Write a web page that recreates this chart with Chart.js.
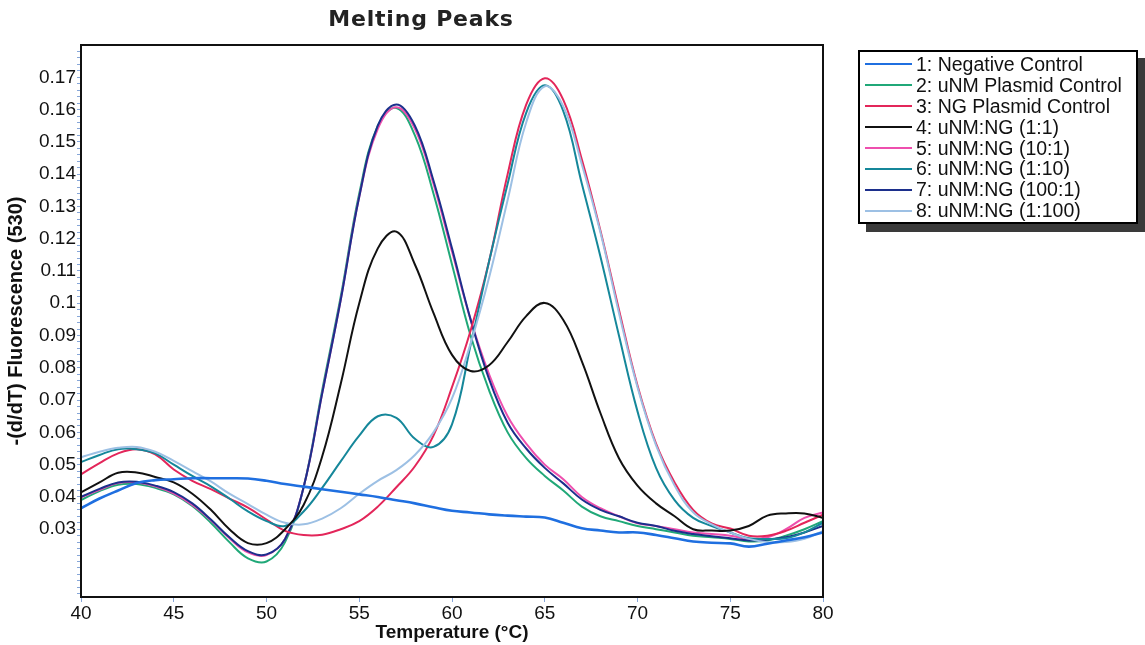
<!DOCTYPE html>
<html>
<head>
<meta charset="utf-8">
<script src="https://cdn.jsdelivr.net/npm/chart.js@4"></script>
<style>
  html, body { margin: 0; padding: 0; background: #fff; }
  #wrap { position: relative; width: 1145px; height: 645px; }
  #legend {
    position: absolute; left: 858px; top: 50px; width: 276px; height: 168px;
    border: 2px solid #000; background: #fff; box-shadow: 8px 8px 0 #3a3a3a;
    font-family: "Liberation Sans", Arial, sans-serif; font-size: 19.5px; color: #111;
    padding-top: 2px; box-sizing: content-box;
  }
  .item { height: 20.9px; line-height: 20.9px; white-space: nowrap; display: flex; align-items: center; }
  .swatch { display: inline-block; width: 47px; height: 0; border-top: 2.5px solid; margin-left: 5px; margin-right: 4px; }
</style>
</head>
<body>
<div id="wrap">
  <canvas id="c" width="1145" height="645"></canvas>
  <div id="legend"></div>
</div>
<script>
// ---- data ----
const temps = [40,41,42,43,44,45,46,47,48,49,50,51,52,53,54,55,56,57,58,59,60,61,62,63,64,65,66,67,68,69,70,71,72,73,74,75,76,77,78,79,80];

const seriesLabels = ["1: Negative Control","2: uNM Plasmid Control","3: NG Plasmid Control","4: uNM:NG (1:1)","5: uNM:NG (10:1)","6: uNM:NG (1:10)","7: uNM:NG (100:1)","8: uNM:NG (1:100)"];
const seriesColors = ["#1f6fe0","#20a878","#e3265a","#111111","#ee4fae","#15879a","#1c2f8c","#9dc0e4"];

const negControl = [0.0365,0.0395,0.0420,0.0443,0.0452,0.0455,0.0458,0.0458,0.0458,0.0457,0.0450,0.0440,0.0432,0.0424,0.0416,0.0408,0.0400,0.0390,0.0380,0.0368,0.0357,0.0352,0.0346,0.0342,0.0339,0.0336,0.0320,0.0303,0.0296,0.0290,0.0290,0.0282,0.0272,0.0262,0.0258,0.0256,0.0246,0.0255,0.0265,0.0275,0.0290];
const uNMPlasmid = [0.0390,0.0418,0.0438,0.0440,0.0428,0.0408,0.0372,0.0320,0.0260,0.0210,0.0200,0.0260,0.0430,0.0730,0.1020,0.1340,0.1550,0.1605,0.1520,0.1340,0.1120,0.0900,0.0730,0.0600,0.0520,0.0465,0.0420,0.0370,0.0340,0.0325,0.0310,0.0300,0.0290,0.0280,0.0275,0.0270,0.0262,0.0265,0.0280,0.0300,0.0325];
const ngPlasmid = [0.0470,0.0505,0.0535,0.0548,0.0532,0.0485,0.0450,0.0424,0.0395,0.0367,0.0330,0.0295,0.0282,0.0283,0.0300,0.0325,0.0370,0.0430,0.0495,0.0590,0.0740,0.0915,0.1130,0.1400,0.1615,0.1697,0.1630,0.1445,0.1225,0.0980,0.0745,0.0565,0.0445,0.0360,0.0318,0.0302,0.0280,0.0280,0.0295,0.0320,0.0345];
const mix1to1 = [0.0414,0.0445,0.0475,0.0476,0.0462,0.0445,0.0410,0.0360,0.0300,0.0257,0.0257,0.0300,0.0375,0.0525,0.0750,0.1000,0.1170,0.1222,0.1120,0.0970,0.0840,0.0790,0.0808,0.0880,0.0960,0.1001,0.0948,0.0820,0.0660,0.0520,0.0435,0.0380,0.0340,0.0300,0.0296,0.0296,0.0310,0.0342,0.0349,0.0349,0.0335];
const mix10to1 = [0.0398,0.0422,0.0443,0.0445,0.0433,0.0410,0.0375,0.0328,0.0272,0.0228,0.0220,0.0270,0.0430,0.0720,0.1010,0.1330,0.1540,0.1607,0.1540,0.1370,0.1160,0.0950,0.0780,0.0650,0.0565,0.0500,0.0455,0.0400,0.0365,0.0340,0.0318,0.0310,0.0300,0.0290,0.0285,0.0280,0.0270,0.0275,0.0300,0.0335,0.0352];
const mix1to10 = [0.0508,0.0530,0.0548,0.0548,0.0535,0.0500,0.0465,0.0433,0.0395,0.0355,0.0325,0.0310,0.0355,0.0428,0.0510,0.0590,0.0650,0.0645,0.0580,0.0555,0.0625,0.0870,0.1130,0.1370,0.1590,0.1675,0.1595,0.1370,0.1145,0.0900,0.0665,0.0490,0.0390,0.0335,0.0310,0.0290,0.0272,0.0270,0.0272,0.0290,0.0320];
const mix100to1 = [0.0400,0.0425,0.0445,0.0447,0.0435,0.0415,0.0380,0.0330,0.0275,0.0232,0.0222,0.0270,0.0430,0.0720,0.1010,0.1330,0.1550,0.1616,0.1550,0.1380,0.1170,0.0950,0.0765,0.0630,0.0550,0.0490,0.0442,0.0392,0.0360,0.0340,0.0320,0.0310,0.0295,0.0285,0.0278,0.0272,0.0265,0.0268,0.0275,0.0290,0.0310];
const mix1to100 = [0.0523,0.0540,0.0552,0.0555,0.0540,0.0512,0.0480,0.0448,0.0410,0.0378,0.0345,0.0320,0.0315,0.0333,0.0365,0.0410,0.0450,0.0483,0.0530,0.0600,0.0705,0.0875,0.1080,0.1320,0.1560,0.1672,0.1610,0.1430,0.1220,0.0970,0.0740,0.0560,0.0435,0.0352,0.0315,0.0290,0.0270,0.0260,0.0260,0.0270,0.0295];

const allSeries = [negControl, uNMPlasmid, ngPlasmid, mix1to1, mix10to1, mix1to10, mix100to1, mix1to100];
const xTicks = [40,45,50,55,60,65,70,75,80];
const yLabelTicks = [0.03,0.04,0.05,0.06,0.07,0.08,0.09,0.10,0.11,0.12,0.13,0.14,0.15,0.16,0.17];

// ---- chart ----
const FONT = '"Liberation Sans", Arial, sans-serif';
const datasets = allSeries.map((vals, i) => ({
  label: seriesLabels[i],
  data: temps.map((t, k) => ({x: t, y: vals[k]})),
  borderColor: seriesColors[i],
  borderWidth: i === 0 ? 2.6 : 2,
  pointRadius: 0,
  fill: false,
  tension: 0.4
}));
const order = [1,4,6,2,5,7,3,0];
order.forEach((idx, k) => { datasets[idx].order = 10 - k; });

const frame = {
  id: 'frame',
  afterDatasetsDraw(chart) {
    const a = chart.chartArea, ctx = chart.ctx;
    ctx.save();
    ctx.strokeStyle = '#111';
    ctx.lineWidth = 2;
    ctx.strokeRect(a.left, a.top, a.right - a.left, a.bottom - a.top);
    ctx.restore();
  },
  afterDraw(chart) {
    const ctx = chart.ctx;
    ctx.save();
    ctx.fillStyle = '#222';
    ctx.font = 'bold 22px "DejaVu Sans", sans-serif';
    if ('letterSpacing' in ctx) ctx.letterSpacing = '0.8px';
    ctx.textAlign = 'center';
    ctx.textBaseline = 'middle';
    ctx.fillText('Melting Peaks', 421, 20);
    ctx.restore();
  }
};

const yMinor = [];
for (let k = 5; k <= 89; k++) yMinor.push(+(k * 0.002).toFixed(3));

new Chart(document.getElementById('c'), {
  type: 'line',
  data: { datasets },
  options: {
    responsive: false,
    animation: false,
    devicePixelRatio: 1,
    layout: { padding: { left: 0, right: 322, top: 45, bottom: 0 } },
    plugins: { legend: { display: false }, tooltip: { enabled: false }, title: { display: false } },
    scales: {
      x: {
        type: 'linear', min: 40, max: 80,
        afterBuildTicks(s) { s.ticks = xTicks.map(v => ({value: v})); },
        afterFit(s) { s.height = 48; },
        grid: { drawOnChartArea: false, drawTicks: true, tickLength: 5, color: '#86a6d8', lineWidth: 1 },
        border: { display: true, color: '#111', width: 2 },
        ticks: { color: '#111', font: { family: FONT, size: 19 }, padding: 0, maxRotation: 0, autoSkip: false },
        title: { display: true, text: 'Temperature (°C)', color: '#111', font: { family: FONT, size: 19, weight: 'bold' }, padding: { top: 0, bottom: 1 } }
      },
      y: {
        type: 'linear', min: 0.009, max: 0.180,
        afterBuildTicks(s) { s.ticks = yMinor.map(v => ({value: v})); },
        afterFit(s) { s.width = 81; },
        grid: { drawOnChartArea: false, drawTicks: true, tickLength: 4, color: '#86a6d8', lineWidth: 1 },
        border: { display: true, color: '#111', width: 2 },
        ticks: {
          color: '#111', font: { family: FONT, size: 19 }, padding: 1, autoSkip: false,
          callback(v) {
            const hit = yLabelTicks.find(t => Math.abs(t - v) < 1e-6);
            return hit === undefined ? '' : String(parseFloat(hit.toFixed(2)));
          }
        },
        title: { display: true, text: '-(d/dT) Fluorescence (530)', color: '#111', font: { family: FONT, size: 20, weight: 'bold' }, padding: { top: 4, bottom: 0 } }
      }
    }
  },
  plugins: [frame]
});

// ---- HTML legend built from the arrays ----
const leg = document.getElementById('legend');
seriesLabels.forEach((lab, i) => {
  const row = document.createElement('div');
  row.className = 'item';
  const sw = document.createElement('span');
  sw.className = 'swatch';
  sw.style.borderTopColor = seriesColors[i];
  const tx = document.createElement('span');
  tx.textContent = lab;
  row.appendChild(sw); row.appendChild(tx);
  leg.appendChild(row);
});
</script>
</body>
</html>
